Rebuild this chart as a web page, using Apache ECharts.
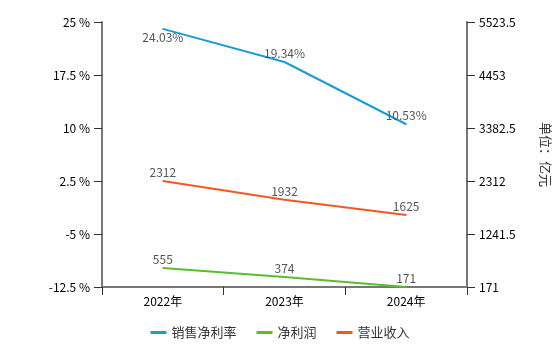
<!DOCTYPE html>
<html><head><meta charset="utf-8">
<script src="https://cdn.jsdelivr.net/npm/echarts@6/dist/echarts.min.js"></script>
<style>html,body{margin:0;padding:0;background:#fff}#c{width:560px;height:346px}</style>
</head><body><div id="c"></div>
<script>
var categories = ['2022年', '2023年', '2024年'];
var netMargin = [24.03, 19.34, 10.53];
var netProfit = [555, 374, 171];
var revenue = [2312, 1932, 1625];
var leftTicks = [-12.5, 25, 7.5];
var rightTicks = [171, 5523.5, 1070.5];

var font = "'Noto Sans CJK SC', sans-serif";
var chart = echarts.init(document.getElementById('c'));
function lbl(pos, fmt) { return {show: true, position: pos, distance: 2, color: '#555', fontSize: 12, fontFamily: font, formatter: fmt || '{c}'}; }
var hidden = {symbol: 'circle', symbolSize: 1, showSymbol: true};
chart.setOption({
  animation: false,
  grid: {left: 102, right: 89, top: 22, bottom: 59},
  legend: {
    bottom: 2, left: 'center', itemWidth: 16, itemHeight: 3, itemGap: 20,
    icon: 'rect',
    textStyle: {color: '#333', fontSize: 13, fontFamily: font},
    data: ['销售净利率', '净利润', '营业收入']
  },
  xAxis: {
    type: 'category', data: categories, boundaryGap: true,
    axisLine: {onZero: false, lineStyle: {color: '#777', width: 2}},
    axisTick: {show: true, length: 8, lineStyle: {color: '#333'}},
    axisLabel: {color: '#000', fontSize: 12, fontFamily: font, margin: 8}
  },
  yAxis: [{
    type: 'value', min: leftTicks[0], max: leftTicks[1], interval: leftTicks[2],
    axisLine: {show: true, lineStyle: {color: '#777', width: 2}},
    axisTick: {show: true, length: 8, lineStyle: {color: '#333'}},
    splitLine: {show: false},
    axisLabel: {color: '#000', fontSize: 12, fontFamily: font, margin: 12, formatter: function(v){ return v + ' %'; }}
  }, {
    type: 'value', min: rightTicks[0], max: rightTicks[1], interval: rightTicks[2],
    position: 'right',
    name: '单位：亿元', nameLocation: 'middle', nameRotate: -90, nameGap: 72,
    nameTextStyle: {color: '#333', fontSize: 13, fontFamily: font},
    axisLine: {show: true, lineStyle: {color: '#777', width: 2}},
    axisTick: {show: true, length: 8, lineStyle: {color: '#333'}},
    splitLine: {show: false},
    axisLabel: {color: '#000', fontSize: 12, fontFamily: font, margin: 12, formatter: function(v){ return String(v); }}
  }],
  series: [{
    name: '销售净利率', type: 'line', yAxisIndex: 0, data: netMargin.map(function(v, i){
      return {value: v, label: lbl(i === 0 ? 'bottom' : 'top', '{c}%')};
    }),
    symbol: 'circle', symbolSize: 1, showSymbol: true,
    lineStyle: {color: '#1a9bd7', width: 2}, itemStyle: {color: '#1a9bd7'},
    label: lbl('top', '{c}%')
  }, {
    name: '净利润', type: 'line', yAxisIndex: 1, data: netProfit,
    symbol: 'circle', symbolSize: 1, showSymbol: true,
    lineStyle: {color: '#5bbd2b', width: 2}, itemStyle: {color: '#5bbd2b'},
    label: lbl('top')
  }, {
    name: '营业收入', type: 'line', yAxisIndex: 1, data: revenue,
    symbol: 'circle', symbolSize: 1, showSymbol: true,
    lineStyle: {color: '#f05a22', width: 2}, itemStyle: {color: '#f05a22'},
    label: lbl('top')
  }]
});
</script></body></html>
